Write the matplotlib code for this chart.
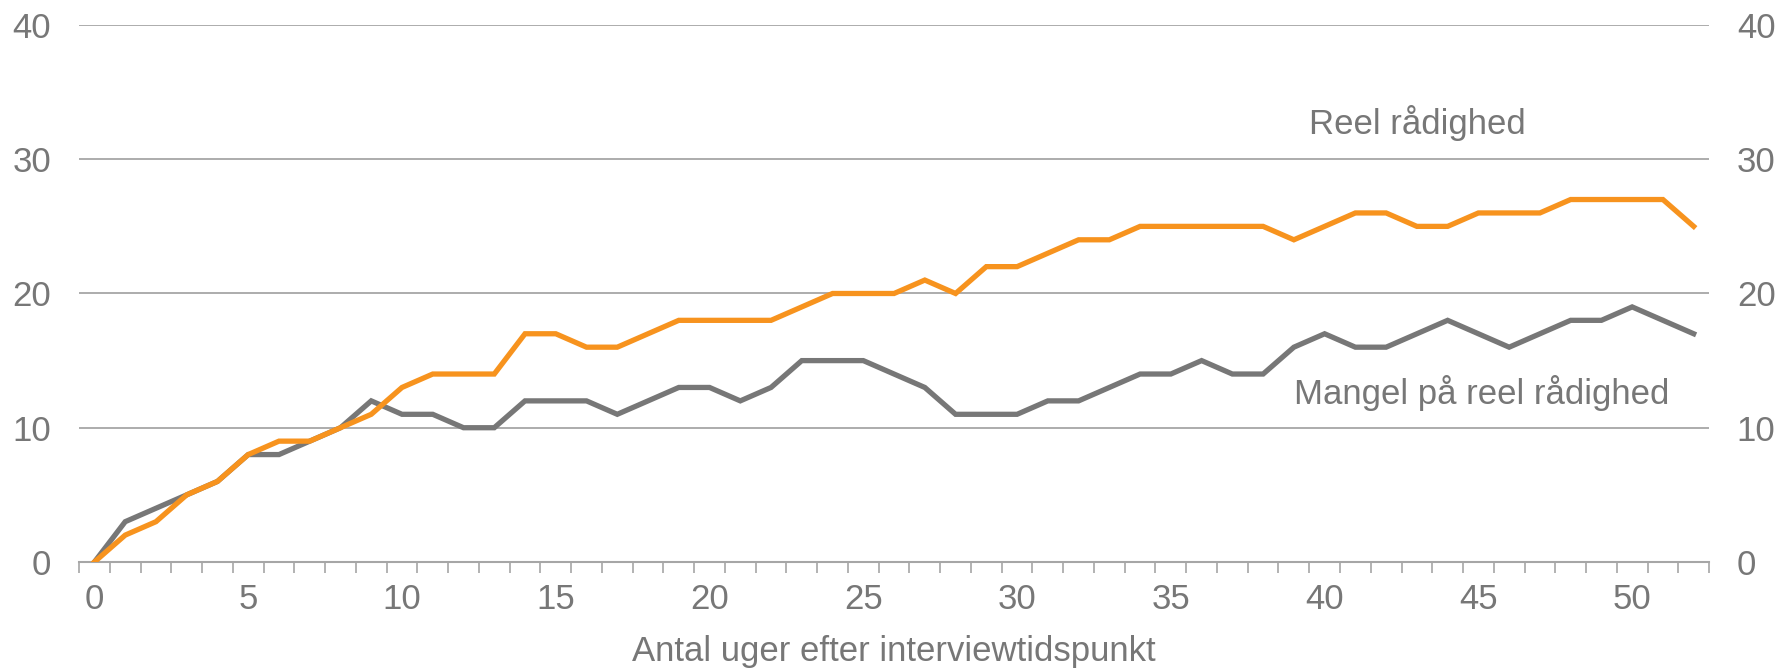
import matplotlib.pyplot as plt
import numpy as np

# weeks after interview
weeks = list(range(53))

# "Reel rådighed" (orange)
reel = [0, 2, 3, 5, 6, 8, 9, 9, 10, 11, 13, 14, 14, 14, 17, 17, 16, 16, 17, 18,
        18, 18, 18, 19, 20, 20, 20, 21, 20, 22, 22, 23, 24, 24, 25, 25, 25, 25,
        25, 24, 25, 26, 26, 25, 25, 26, 26, 26, 27, 27, 27, 27, 25]

# "Mangel på reel rådighed" (grey)
mangel = [0, 3, 4, 5, 6, 8, 8, 9, 10, 12, 11, 11, 10, 10, 12, 12, 12, 11, 12, 13,
          13, 12, 13, 15, 15, 15, 14, 13, 11, 11, 11, 12, 12, 13, 14, 14, 15, 14,
          14, 16, 17, 16, 16, 17, 18, 17, 16, 17, 18, 18, 19, 18, 17]

y_ticks = [0, 10, 20, 30, 40]
x_ticks = list(range(0, 51, 5))

ORANGE = "#F7931E"
GREY = "#777777"
TEXT = "#777777"
GRID = "#A6A6A6"
FS = 25

plt.rcParams["font.family"] = ["Liberation Sans", "DejaVu Sans"]

fig = plt.figure(figsize=(17.81, 6.69), dpi=100)
ax = fig.add_axes([0.0444, 0.16, 0.9152, 0.8026])

ax.plot(weeks, mangel, color=GREY, lw=3.8, solid_joinstyle="miter", zorder=3)
ax.plot(weeks, reel, color=ORANGE, lw=3.8, solid_joinstyle="miter", zorder=4)

ax.set_xlim(-0.5, len(weeks) - 0.5)
ax.set_ylim(0, 40)

# category axis: tick marks between categories, labels every 5th week
ax.set_xticks(x_ticks)
ax.set_xticks(np.arange(-0.5, len(weeks), 1.0), minor=True)
ax.tick_params(axis="x", which="major", length=0, pad=15, labelsize=FS, labelcolor=TEXT)
ax.tick_params(axis="x", which="minor", length=8, width=1.2, color=GRID, direction="out")

ax.set_yticks(y_ticks)
ax.tick_params(axis="y", length=0, pad=20, labelsize=FS, labelcolor=TEXT,
               left=True, right=False, labelleft=True)
ax.grid(axis="y", color=GRID, lw=1.3, zorder=0)

for side in ["left", "right", "top"]:
    ax.spines[side].set_visible(False)
ax.spines["bottom"].set_color(GRID)
ax.spines["bottom"].set_linewidth(1.5)

# right-hand copy of the value axis
ax2 = ax.twinx()
ax2.set_ylim(ax.get_ylim())
ax2.set_yticks(y_ticks)
ax2.tick_params(axis="y", length=0, pad=20, labelsize=FS, labelcolor=TEXT)
for side in ["left", "right", "top", "bottom"]:
    ax2.spines[side].set_visible(False)

ax.set_xlabel("Antal uger efter interviewtidspunkt", fontsize=FS, color=TEXT, labelpad=14)

ax.text(43.0, 32.7, "Reel rådighed", fontsize=FS, color=TEXT, ha="center", va="center")
ax.text(45.1, 12.6, "Mangel på reel rådighed", fontsize=FS, color=TEXT,
        ha="center", va="center")

fig.savefig("out.png", dpi=100)
